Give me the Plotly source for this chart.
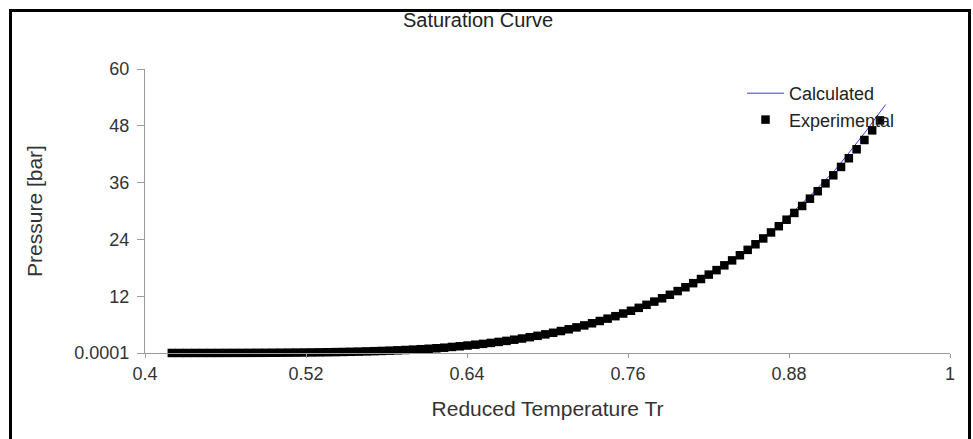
import plotly.graph_objects as go

# Experimental points (reduced temperature, pressure in bar)
tr_exp = [
    0.4200, 0.4258, 0.4316, 0.4374, 0.4432, 0.4490, 0.4548, 0.4606, 0.4664, 0.4722,
    0.4780, 0.4838, 0.4896, 0.4954, 0.5012, 0.5070, 0.5128, 0.5186, 0.5244, 0.5302,
    0.5360, 0.5418, 0.5476, 0.5534, 0.5592, 0.5650, 0.5708, 0.5766, 0.5824, 0.5882,
    0.5940, 0.5998, 0.6056, 0.6114, 0.6172, 0.6230, 0.6288, 0.6346, 0.6404, 0.6462,
    0.6520, 0.6578, 0.6636, 0.6694, 0.6752, 0.6810, 0.6868, 0.6926, 0.6984, 0.7042,
    0.7100, 0.7158, 0.7216, 0.7274, 0.7332, 0.7390, 0.7448, 0.7506, 0.7564, 0.7622,
    0.7680, 0.7738, 0.7796, 0.7854, 0.7912, 0.7970, 0.8028, 0.8086, 0.8144, 0.8202,
    0.8260, 0.8318, 0.8376, 0.8434, 0.8492, 0.8550, 0.8608, 0.8666, 0.8724, 0.8782,
    0.8840, 0.8898, 0.8956, 0.9014, 0.9072, 0.9130, 0.9188, 0.9246, 0.9304, 0.9362,
    0.9420, 0.9478,
]
p_exp = [
    0.003, 0.004, 0.005, 0.006, 0.008, 0.010, 0.012, 0.016, 0.019, 0.024,
    0.029, 0.035, 0.042, 0.051, 0.061, 0.073, 0.087, 0.102, 0.120, 0.141,
    0.164, 0.191, 0.221, 0.255, 0.293, 0.336, 0.384, 0.438, 0.497, 0.563,
    0.635, 0.715, 0.803, 0.899, 1.00, 1.12, 1.28, 1.42, 1.58, 1.76,
    1.93, 2.13, 2.34, 2.56, 2.81, 3.06, 3.34, 3.63, 3.94, 4.27,
    4.64, 5.01, 5.41, 5.83, 6.28, 6.76, 7.26, 7.78, 8.34, 8.92,
    9.54, 10.18, 10.86, 11.56, 12.30, 13.08, 13.89, 14.75, 15.63, 16.56,
    17.51, 18.52, 19.57, 20.65, 21.79, 22.97, 24.20, 25.47, 26.79, 28.16,
    29.59, 31.06, 32.60, 34.18, 35.84, 37.54, 39.31, 41.14, 43.04, 45.00,
    47.04, 49.14,
]

# Calculated curve
tr_calc = [
    0.4200, 0.4276, 0.4352, 0.4428, 0.4504, 0.4580, 0.4656, 0.4732, 0.4808, 0.4884,
    0.4960, 0.5036, 0.5112, 0.5188, 0.5264, 0.5340, 0.5416, 0.5492, 0.5568, 0.5644,
    0.5720, 0.5796, 0.5872, 0.5948, 0.6024, 0.6100, 0.6176, 0.6252, 0.6328, 0.6404,
    0.6480, 0.6556, 0.6632, 0.6708, 0.6784, 0.6860, 0.6936, 0.7012, 0.7088, 0.7164,
    0.7240, 0.7316, 0.7392, 0.7468, 0.7544, 0.7620, 0.7696, 0.7772, 0.7848, 0.7924,
    0.8000, 0.8076, 0.8152, 0.8228, 0.8304, 0.8380, 0.8456, 0.8532, 0.8608, 0.8684,
    0.8760, 0.8836, 0.8912, 0.8988, 0.9064, 0.9140, 0.9216, 0.9292, 0.9368, 0.9444,
    0.9520,
]
p_calc = [
    0.003, 0.004217, 0.00585, 0.008013, 0.01085, 0.01452, 0.01922, 0.02519, 0.03269, 0.04205,
    0.0536, 0.06776, 0.08497, 0.1058, 0.1307, 0.1604, 0.1955, 0.2368, 0.2851, 0.3413,
    0.4062, 0.481, 0.5667, 0.6644, 0.7753, 0.9006, 1.042, 1.2, 1.377, 1.574,
    1.792, 2.033, 2.3, 2.592, 2.913, 3.263, 3.645, 4.061, 4.511, 4.999,
    5.59, 6.17, 6.78, 7.44, 8.15, 8.91, 9.72, 10.59, 11.51, 12.48,
    13.51, 14.61, 15.78, 17.00, 18.30, 19.66, 21.28, 22.81, 24.42, 26.11,
    27.90, 30.06, 32.03, 34.10, 36.29, 38.56, 41.19, 43.88, 46.65, 49.57,
    52.48,
]

x_ticks = [0.4, 0.52, 0.64, 0.76, 0.88, 1]
x_tick_text = ["0.4", "0.52", "0.64", "0.76", "0.88", "1"]
y_ticks = [0.0001, 12, 24, 36, 48, 60]
y_tick_text = ["0.0001", "12", "24", "36", "48", "60"]

FONT = "Liberation Sans, Arial, sans-serif"
W, H = 973, 439
ML, MR, MT, MB = 145, 23, 69, 86
PW, PH = W - ML - MR, H - MT - MB

fig = go.Figure()
fig.add_trace(go.Scatter(
    x=tr_calc, y=p_calc, mode="lines", name="Calculated",
    line=dict(color="#3a3af0", width=1), cliponaxis=False,
))
fig.add_trace(go.Scatter(
    x=tr_exp, y=p_exp, mode="markers", name="Experimental",
    marker=dict(symbol="square", size=8.5, color="black", line=dict(width=0)),
    cliponaxis=False,
))

axis_common = dict(
    showgrid=False, zeroline=False, showline=True, linecolor="#9a9a9a", linewidth=1,
    ticks="outside", tickcolor="#9a9a9a", tickwidth=1,
    tickfont=dict(family=FONT, size=18, color="#333333"),
)
fig.update_xaxes(
    range=[0.4, 1], tickmode="array", tickvals=x_ticks, ticktext=x_tick_text,
    ticklen=4, ticklabelstandoff=0,
    title=dict(text="Reduced Temperature Tr", font=dict(family=FONT, size=21, color="#333333"), standoff=18),
    **axis_common,
)
fig.update_yaxes(
    range=[0.0001, 60], tickmode="array", tickvals=y_ticks, ticktext=y_tick_text,
    ticklen=7, ticklabelstandoff=4,
    title=dict(text="Pressure [bar]", font=dict(family=FONT, size=21, color="#333333"), standoff=25),
    **axis_common,
)

fig.update_layout(
    width=W, height=H,
    margin=dict(l=ML, r=MR, t=MT, b=MB, autoexpand=False),
    paper_bgcolor="white", plot_bgcolor="white",
    title=dict(text="Saturation Curve", font=dict(family=FONT, size=20, color="#222222"),
               x=478 / W, xanchor="center", xref="container",
               y=1 - 20 / H, yanchor="middle", yref="container"),
    showlegend=True,
    legend=dict(
        x=(742 - ML) / PW, y=(H - MB - 75) / PH, xanchor="left", yanchor="top",
        font=dict(family=FONT, size=18, color="#222222"),
        bgcolor="rgba(0,0,0,0)", borderwidth=0, itemwidth=37, tracegroupgap=0,
    ),
    shapes=[dict(
        type="rect", xref="paper", yref="paper",
        x0=(10.5 - ML) / PW, x1=(969.5 - ML) / PW,
        y0=(H - MB - 460) / PH, y1=(H - MB - 10.5) / PH,
        line=dict(color="black", width=3), fillcolor="rgba(0,0,0,0)", layer="above",
    )],
)

fig.write_html("out.html")
